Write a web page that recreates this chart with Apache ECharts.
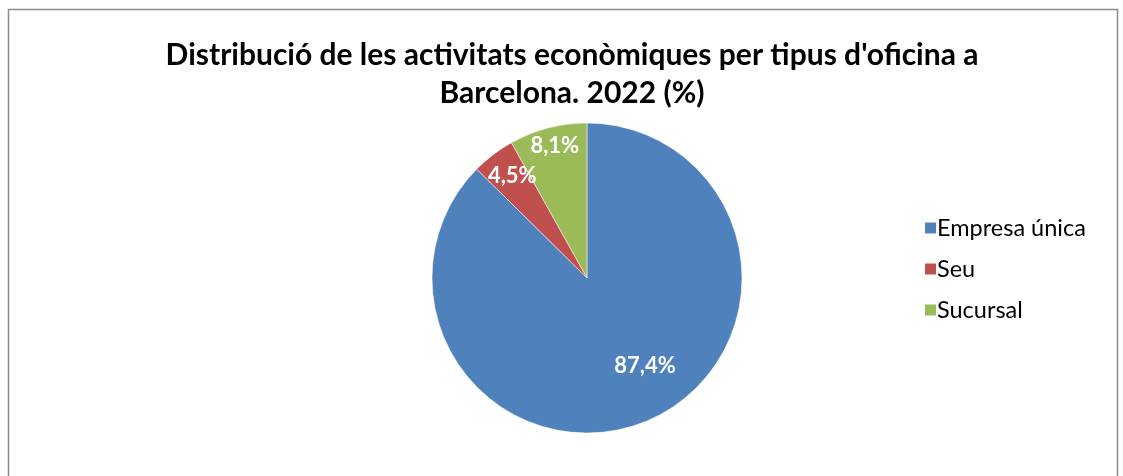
<!DOCTYPE html>
<html><head><meta charset="utf-8">
<script src="https://cdn.jsdelivr.net/npm/echarts@6/dist/echarts.min.js"></script>
<style>html,body{margin:0;padding:0;background:#fff}#c{width:1123px;height:476px}</style>
</head><body><div id="c"></div>
<script>
const categories = ['Empresa única', 'Seu', 'Sucursal'];
const values = [87.4, 4.5, 8.1];
const colors = ['#4F81BD', '#C0504D', '#9BBB59'];
const labelOffsets = [[27, 14], [-26, -38], [-12, -54]];
const titleText = "Distribució de les activitats econòmiques per tipus d'oficina a\nBarcelona. 2022 (%)";

const chart = echarts.init(document.getElementById('c'));
chart.setOption({
  animation: false,
  graphic: [{type: 'rect', shape: {x: 8.5, y: 9.5, width: 1109, height: 500}, style: {fill: 'none', stroke: '#8c8c8c', lineWidth: 1.5}, silent: true}],
  title: {
    text: titleText, left: 567, top: 31, textAlign: 'center',
    textStyle: {fontFamily: 'Lato', fontWeight: 'bold', fontSize: 30, color: '#000', lineHeight: 38}
  },
  legend: {
    orient: 'vertical', left: 923, top: 216, padding: 0, icon: 'rect', itemWidth: 13, itemHeight: 13, itemGap: 17,
    textStyle: {fontFamily: 'Lato', fontSize: 23.5, color: '#000', lineHeight: 23, padding: [0,0,0,-5]},
    data: categories
  },
  series: [{
    type: 'pie', center: [587, 278], radius: [0, 155], startAngle: 90, clockwise: true,
    label: {show: true, position: 'inside', color: '#fff', fontFamily: 'Lato', fontWeight: 'bold', fontSize: 22,
      formatter: p => p.value.toFixed(1).replace('.', ',') + '%'},
    labelLine: {show: false},
    itemStyle: {borderColor: '#fff', borderWidth: 0.5},
    emphasis: {disabled: true},
    data: categories.map((n, i) => ({name: n, value: values[i], itemStyle: {color: colors[i]}, label: {offset: labelOffsets[i]}}))
  }]
});
</script></body></html>
